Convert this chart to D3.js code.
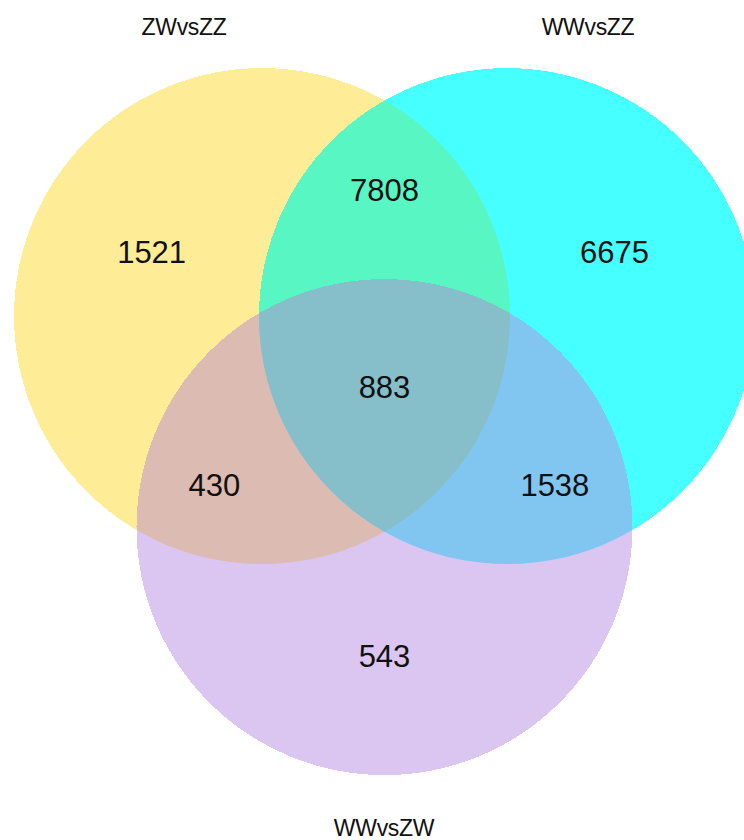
<!DOCTYPE html>
<html>
<head>
<meta charset="utf-8">
<script src="https://cdn.jsdelivr.net/npm/d3@7"></script>
<style>
  html, body { margin: 0; padding: 0; background: #fff; }
  svg { display: block; }
  text { font-family: "Liberation Sans", Arial, Helvetica, sans-serif; fill: #111; }
</style>
</head>
<body>
<svg id="chart" width="744" height="840"></svg>
<script>
// ---- data ----
const setNames = ["ZWvsZZ", "WWvsZZ", "WWvsZW"];
const regionKeys = ["A", "B", "C", "AB", "AC", "BC", "ABC"];
const regionCounts = [1521, 6675, 543, 7808, 430, 1538, 883];
const setColors = ["#FEEC96", "#46FFFF", "#DAC6F0"];
const regionColors = { AB: "#58F6C3", AC: "#DCBBB2", BC: "#80C6F1", ABC: "#86BECA" };

// ---- layout ----
const svg = d3.select("#chart");
const R = 248;
// unit coordinate system for the diagram
const x = d3.scaleLinear().domain([-1, 1]).range([384.5 - R, 384.5 + R]);
const y = d3.scaleLinear().domain([-1, 1]).range([386 - R, 386 + R]);
const rs = d3.scaleLinear().domain([0, 1]).range([0, R]);

const centers = [
  { cx: -0.494, cy: -0.282 },
  { cx: 0.494, cy: -0.282 },
  { cx: 0.0, cy: 0.569 }
];

const defs = svg.append("defs");
centers.forEach((c, i) => {
  defs.append("clipPath").attr("id", "clip" + i)
    .append("circle").attr("cx", x(c.cx)).attr("cy", y(c.cy)).attr("r", rs(1));
});
// nested clip for A∩B
defs.append("clipPath").attr("id", "clipAB")
  .attr("clip-path", "url(#clip0)")
  .append("circle").attr("cx", x(centers[1].cx)).attr("cy", y(centers[1].cy)).attr("r", rs(1));

const g = svg.append("g").attr("shape-rendering", "crispEdges");

function circ(i, fill, clip) {
  const c = centers[i];
  const el = g.append("circle")
    .attr("cx", x(c.cx)).attr("cy", y(c.cy)).attr("r", rs(1))
    .attr("fill", fill);
  if (clip) el.attr("clip-path", "url(#" + clip + ")");
  return el;
}

// single sets
circ(0, setColors[0]);
circ(1, setColors[1]);
circ(2, setColors[2]);
// pairwise overlaps
circ(1, regionColors.AB, "clip0");
circ(2, regionColors.AC, "clip0");
circ(2, regionColors.BC, "clip1");
// triple overlap
circ(2, regionColors.ABC, "clipAB");

// region label positions (unit coords)
const labelPos = {
  A: [-0.939, -0.539],
  B: [0.927, -0.539],
  C: [0.0, 1.089],
  AB: [0.0, -0.790],
  AC: [-0.686, 0.403],
  BC: [0.687, 0.403],
  ABC: [0.0, 0.008]
};

g.selectAll("text.count")
  .data(regionKeys.map((k, i) => ({ key: k, value: regionCounts[i] })))
  .join("text")
  .attr("class", "count")
  .attr("x", d => x(labelPos[d.key][0]))
  .attr("y", d => y(labelPos[d.key][1]))
  .attr("text-anchor", "middle")
  .attr("dominant-baseline", "central")
  .attr("font-size", 31)
  .text(d => d.value);

// set name labels
const namePos = [
  [184, 27],
  [588, 27],
  [384, 828]
];
svg.selectAll("text.name")
  .data(setNames)
  .join("text")
  .attr("class", "name")
  .attr("x", (d, i) => namePos[i][0])
  .attr("y", (d, i) => namePos[i][1])
  .attr("text-anchor", "middle")
  .attr("dominant-baseline", "central")
  .attr("font-size", 23)
  .attr("letter-spacing", -0.3)
  .text(d => d);
</script>
</body>
</html>
